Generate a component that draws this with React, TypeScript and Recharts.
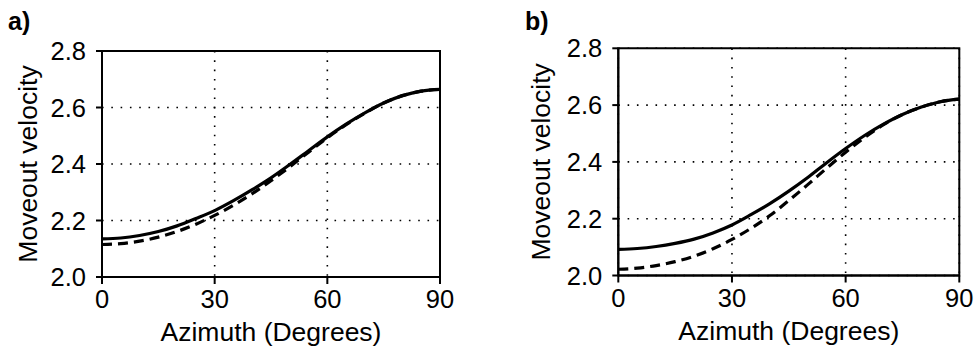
import React from 'react';
import { LineChart, Line, XAxis, YAxis, CartesianGrid, ReferenceArea, Label } from 'recharts';

const azimuth = [0, 5, 10, 15, 20, 25, 30, 35, 40, 45, 50, 55, 60, 65, 70, 75, 80, 85, 90];

// panel a)
const aSolid = [2.135, 2.138, 2.147, 2.161, 2.181, 2.207, 2.235, 2.27, 2.309, 2.351, 2.398, 2.447, 2.496, 2.541, 2.581, 2.616, 2.642, 2.658, 2.664];
const aDashed = [2.115, 2.118, 2.127, 2.141, 2.161, 2.187, 2.218, 2.254, 2.295, 2.341, 2.39, 2.442, 2.493, 2.539, 2.58, 2.616, 2.642, 2.658, 2.664];

// panel b)
const bSolid = [2.092, 2.095, 2.102, 2.113, 2.128, 2.15, 2.178, 2.214, 2.253, 2.297, 2.345, 2.397, 2.447, 2.493, 2.533, 2.567, 2.593, 2.612, 2.621];
const bDashed = [2.022, 2.026, 2.035, 2.049, 2.068, 2.094, 2.127, 2.166, 2.211, 2.264, 2.32, 2.378, 2.434, 2.486, 2.531, 2.567, 2.593, 2.612, 2.621];

const xTicks = [0, 30, 60, 90];
const yTicks = [2.0, 2.2, 2.4, 2.6, 2.8];

const TICK_FONT = 25.5;

const XTick = (props: any) => (
  <text x={props.x} y={props.y} dy="0.71em" textAnchor="middle" fontSize={TICK_FONT} fill="#000">
    {props.payload.value}
  </text>
);

const YTick = (props: any) => (
  <text x={props.x} y={props.y} dy="0.355em" textAnchor="end" fontSize={TICK_FONT} fill="#000">
    {Number(props.payload.value).toFixed(1)}
  </text>
);

interface PanelProps {
  tag: string;
  tagLeft: number;
  solid: number[];
  dashed: number[];
  left: number;
  width: number;
  yAxisWidth: number;
  margin: { top: number; right: number; bottom: number; left: number };
}

const Panel: React.FC<PanelProps> = ({ tag, tagLeft, solid, dashed, left, width, yAxisWidth, margin }) => {
  const data = azimuth.map((az, i) => ({ az, solid: solid[i], dashed: dashed[i] }));

  return (
    <div style={{ position: 'absolute', left, top: 0, width, height: 346 }}>
      <div
        style={{
          position: 'absolute',
          left: tagLeft,
          top: 9,
          fontSize: 25,
          fontWeight: 'bold',
          lineHeight: 1,
        }}
      >
        {tag}
      </div>
      <LineChart width={width} height={346} data={data} margin={margin}>
        <CartesianGrid stroke="#000" strokeWidth={1.6} strokeDasharray="1.6 7.7" />
        <XAxis
          dataKey="az"
          type="number"
          domain={[0, 90]}
          ticks={xTicks}
          stroke="#000"
          strokeWidth={2}
          tickSize={7}
          tickMargin={6}
          tick={XTick}
          height={64}
        >
          <Label value="Azimuth (Degrees)" position="insideBottom" offset={0} fill="#000" fontSize={26.5} />
        </XAxis>
        <YAxis
          type="number"
          domain={[2, 2.8]}
          ticks={yTicks}
          stroke="#000"
          strokeWidth={2}
          tickSize={6}
          tickMargin={10}
          tick={YTick}
          width={yAxisWidth}
        >
          <Label
            value="Moveout velocity"
            position="insideLeft"
            angle={-90}
            offset={0}
            fill="#000"
            fontSize={26.5}
            style={{ textAnchor: 'middle' }}
          />
        </YAxis>
        <ReferenceArea x1={0} x2={90} y1={2} y2={2.8} fill="none" stroke="#000" strokeWidth={2} ifOverflow="visible" />
        <Line
          type="monotone"
          dataKey="dashed"
          stroke="#000"
          strokeWidth={3.2}
          strokeDasharray="10 6"
          dot={false}
          isAnimationActive={false}
        />
        <Line type="monotone" dataKey="solid" stroke="#000" strokeWidth={3.2} dot={false} isAnimationActive={false} />
      </LineChart>
    </div>
  );
};

export default function App() {
  return (
    <div
      style={{
        position: 'absolute',
        left: 0,
        top: 0,
        width: 975,
        height: 346,
        background: '#fff',
        fontFamily: '"Liberation Sans", Arial, sans-serif',
      }}
    >
      <Panel
        tag="a)"
        tagLeft={8}
        solid={aSolid}
        dashed={aDashed}
        left={0}
        width={480}
        yAxisWidth={74}
        margin={{ top: 51, right: 40, bottom: 5, left: 28 }}
      />
      <Panel
        tag="b)"
        tagLeft={35}
        solid={bSolid}
        dashed={bDashed}
        left={490}
        width={485}
        yAxisWidth={77.6}
        margin={{ top: 48.3, right: 15.7, bottom: 6.5, left: 50.7 }}
      />
    </div>
  );
}
